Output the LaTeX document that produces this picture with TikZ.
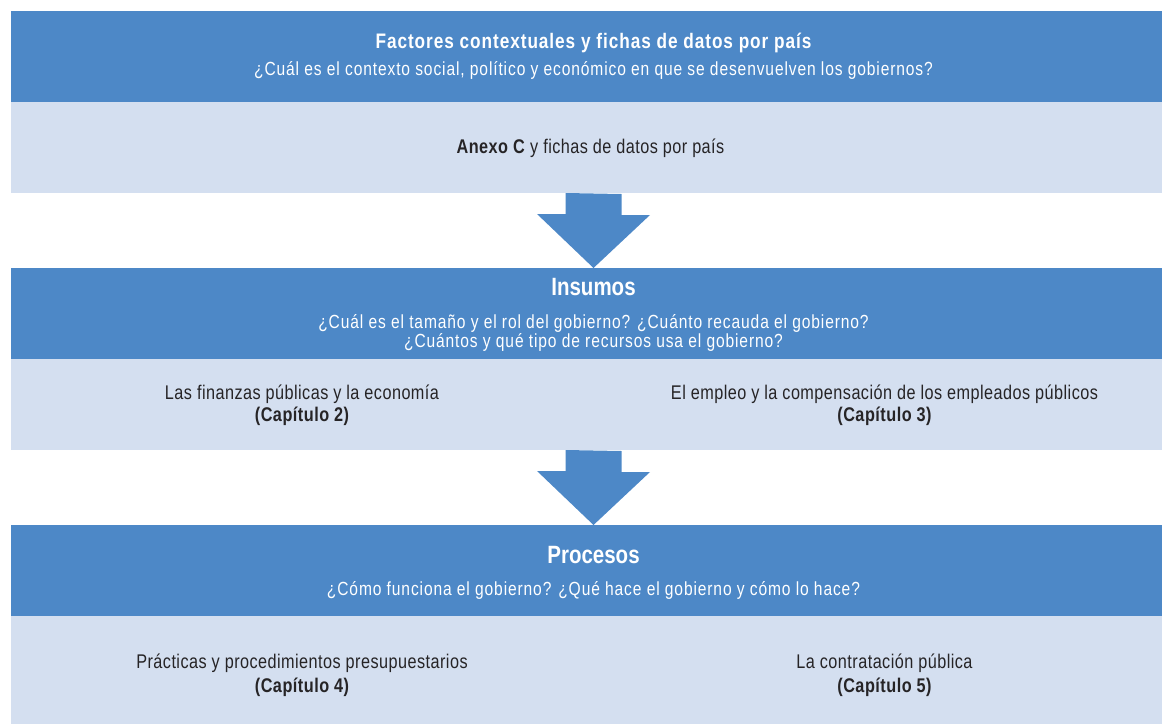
\documentclass[tikz,border=0pt]{standalone}
\usepackage{fontspec}
\setmainfont{Liberation Sans}[FakeStretch=0.82]
\usetikzlibrary{positioning}

\definecolor{bandblue}{RGB}{77,136,199}
\definecolor{bandlight}{RGB}{212,223,240}
\definecolor{bodygray}{RGB}{38,36,38}

\tikzset{
	darkband/.style={fill=bandblue, minimum width=1165pt, minimum height=91pt, inner sep=0pt, outer sep=0pt},
	lightband/.style={fill=bandlight, minimum width=1165pt, minimum height=91pt, inner sep=0pt, outer sep=0pt},
	headtext/.style={anchor=base, inner sep=0pt, text=white, font=\addfontfeature{LetterSpace=4.5}\bfseries\fontsize{21}{25}\selectfont},
	bigtext/.style={anchor=base, inner sep=0pt, text=white, font=\bfseries\fontsize{25}{30}\selectfont},
	asktext/.style={anchor=base, inner sep=0pt, text=white, font=\addfontfeature{LetterSpace=4.6}\fontsize{19}{23}\selectfont},
	bodytext/.style={anchor=base, inner sep=0pt, text=bodygray, font=\addfontfeature{LetterSpace=2.3}\fontsize{19.8}{23}\selectfont},
	chaptext/.style={anchor=base, inner sep=0pt, text=bodygray, font=\addfontfeature{LetterSpace=2.5}\bfseries\fontsize{19.8}{23}\selectfont},
	blockarrow/.style={fill=bandblue}
}

\begin{document}
\begin{tikzpicture}[x=1pt, y=-1pt]
			\useasboundingbox (0, 0) rectangle (1162, 723);
			\clip (0, 0) rectangle (1162, 723);
			
			\node[darkband] (dark1) at (593.5, 56.5) {};
			\node[lightband] (light1) at (593.5, 147.5) {};
			
			\node[darkband] (dark2) at (593.5, 313.5) {};
			\node[lightband] (light2) at (593.5, 404.5) {};
			
			\node[darkband] (dark3) at (593.5, 570.5) {};
			\node[lightband, minimum height=114pt] (light3) at (593.5, 673) {};
			
			\fill[blockarrow] ([xshift=-28pt]light1.south) -- ++(0, 21) -- ++(-28.5, 0) -- (dark2.north) -- ++(56.5, -53) -- ++(-28.5, 0) -- ++(0, -21) -- cycle;
			\fill[blockarrow] ([xshift=-28pt]light2.south) -- ++(0, 21) -- ++(-28.5, 0) -- (dark3.north) -- ++(56.5, -53) -- ++(-28.5, 0) -- ++(0, -21) -- cycle;
			
			\node[headtext] (factores) at (593.5, 48) {Factores contextuales y fichas de datos por país};
			\node[asktext] (contexto) at (593.5, 75) {¿Cuál es el contexto social, político y económico en que se desenvuelven los gobiernos?};
			\node[bodytext] (anexo) at (590.5, 153) {\textbf{Anexo C} y fichas de datos por país};
			
			\node[bigtext] (insumos) at (593.5, 295) {Insumos};
			\node[asktext] (tamano) at (593.5, 328) {¿Cuál es el tamaño y el rol del gobierno? ¿Cuánto recauda el gobierno?};
			\node[asktext] (recursos) at (593.5, 347) {¿Cuántos y qué tipo de recursos usa el gobierno?};
			\node[bodytext] (finanzas) at (302, 399) {Las finanzas públicas y la economía};
			\node[chaptext] (cap2) at (302, 421) {(Capítulo 2)};
			\node[bodytext] (empleo) at (884.5, 399) {El empleo y la compensación de los empleados públicos};
			\node[chaptext] (cap3) at (884.5, 421) {(Capítulo 3)};
			
			\node[bigtext] (procesos) at (593.5, 563) {Procesos};
			\node[asktext] (funciona) at (593.5, 595) {¿Cómo funciona el gobierno? ¿Qué hace el gobierno y cómo lo hace?};
			\node[bodytext] (practicas) at (302, 668) {Prácticas y procedimientos presupuestarios};
			\node[chaptext] (cap4) at (302, 692) {(Capítulo 4)};
			\node[bodytext] (contratacion) at (884.5, 668) {La contratación pública};
			\node[chaptext] (cap5) at (884.5, 692) {(Capítulo 5)};
		\end{tikzpicture}
\end{document}
